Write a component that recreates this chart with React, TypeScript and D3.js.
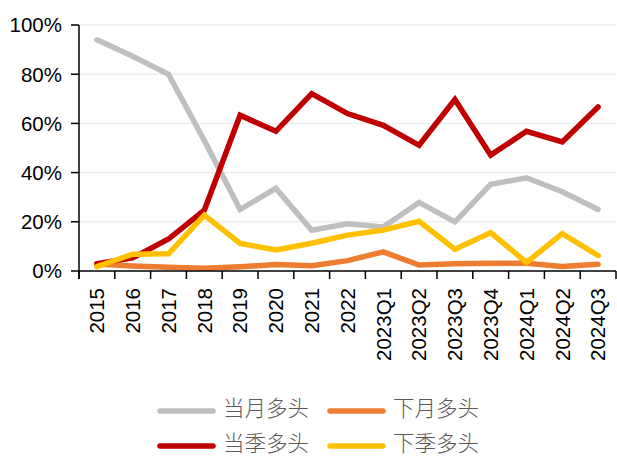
import React from "react";
import * as d3 from "d3";

const categories = ["2015","2016","2017","2018","2019","2020","2021","2022","2023Q1","2023Q2","2023Q3","2023Q4","2024Q1","2024Q2","2024Q3"];
const curMonth = [94, 87.3, 80, 53, 25, 33.6, 16.6, 19.2, 17.9, 27.9, 20, 35.2, 37.9, 32.2, 25];
const nextMonth = [2.8, 2, 1.5, 1.1, 1.7, 2.6, 2.1, 4.2, 7.8, 2.4, 2.9, 3.1, 3.1, 1.8, 2.7];
const curQuarter = [3, 5.3, 13, 24.7, 63.3, 56.8, 72.1, 64, 59.2, 51.1, 69.7, 47.1, 56.8, 52.5, 66.7];
const nextQuarter = [1.8, 6.8, 7, 22.7, 11.2, 8.6, 11.3, 14.6, 16.6, 20.2, 8.8, 15.6, 3.5, 15.2, 6.3];
const yTicks = [0, 20, 40, 60, 80, 100];

const seriesNames = ["当月多头", "下月多头", "当季多头", "下季多头"];
const seriesData = [curMonth, nextMonth, curQuarter, nextQuarter];
const seriesColors = ["#BFBFBF", "#ED7D31", "#C00000", "#FFC000"];

export default function App() {
  const W = 617, H = 458;
  const left = 79, right = 616, top = 25, bottom = 271;
  const x = d3.scaleBand<string>().domain(categories).range([left, right]);
  const y = d3.scaleLinear().domain([0, 100]).range([bottom, top]);
  const line = d3.line<number>()
    .x((_, i) => (x(categories[i]) as number) + x.bandwidth() / 2)
    .y((v) => y(v));
  const bounds = categories.map((c) => x(c) as number).concat([right]);

  const legendPos = [
    { sx: 157, tx: 223, y: 410 },
    { sx: 327, tx: 393, y: 410 },
    { sx: 157, tx: 223, y: 445 },
    { sx: 327, tx: 393, y: 445 },
  ];

  return (
    <svg width={W} height={H} style={{ position: "absolute", left: 0, top: 0, background: "#fff" }}>
      <rect x={0} y={0} width={W} height={H} fill="#fff" />
      {yTicks.filter((t) => t > 0).map((t) => (
        <line key={"g" + t} x1={left} x2={right} y1={y(t)} y2={y(t)} stroke="#EEEEEE" strokeWidth={1.5} />
      ))}
      {seriesData.map((d, i) => (
        <path key={"s" + i} d={line(d) || ""} fill="none" stroke={seriesColors[i]} strokeWidth={5.5}
          strokeLinejoin="miter" strokeLinecap="round" />
      ))}
      <line x1={left} x2={left} y1={top} y2={bottom + 8} stroke="#000" strokeWidth={1.5} />
      <line x1={left} x2={right} y1={bottom} y2={bottom} stroke="#000" strokeWidth={1.5} />
      {yTicks.map((t) => (
        <g key={"yt" + t}>
          <line x1={left - 8} x2={left} y1={y(t)} y2={y(t)} stroke="#000" strokeWidth={1.5} />
          <text x={62} y={y(t)} dy="0.36em" textAnchor="end" fontFamily="'Liberation Sans', Arial, sans-serif"
            fontSize={20.5} fill="#000">{t + "%"}</text>
        </g>
      ))}
      {bounds.map((b, i) => (
        <line key={"xt" + i} x1={b} x2={b} y1={bottom} y2={bottom + 8} stroke="#000" strokeWidth={1.5} />
      ))}
      {categories.map((c) => {
        const cx = (x(c) as number) + x.bandwidth() / 2;
        const ty = 288;
        return (
          <text key={"xl" + c} transform={`translate(${cx},${ty}) rotate(-90)`} dy="0.36em" textAnchor="end"
            fontFamily="'Liberation Sans', Arial, sans-serif" fontSize={20.5} fill="#000">{c}</text>
        );
      })}
      {seriesNames.map((n, i) => (
        <g key={"lg" + i}>
          <line x1={legendPos[i].sx + 3} x2={legendPos[i].sx + 56} y1={legendPos[i].y + 1} y2={legendPos[i].y + 1}
            stroke={seriesColors[i]} strokeWidth={5.5} strokeLinecap="round" />
          <text x={legendPos[i].tx} y={legendPos[i].y} dy="0.3em" fontFamily="'Noto Sans CJK SC', sans-serif"
            fontSize={21.5} fontWeight={300} fill="#595959">{n}</text>
        </g>
      ))}
    </svg>
  );
}
